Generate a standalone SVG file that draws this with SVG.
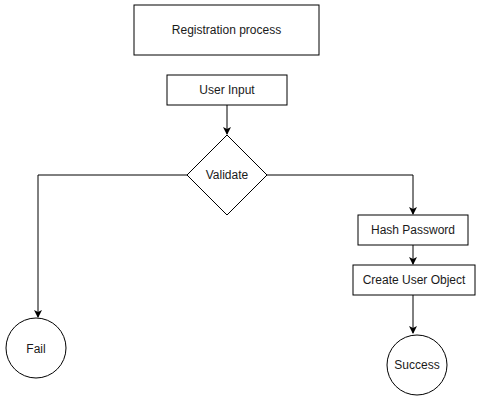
<svg xmlns="http://www.w3.org/2000/svg" width="480" height="401" viewBox="0 0 480 401">
<style>
.box{fill:#fff;stroke:#000;stroke-width:1}
.t{font-family:"Liberation Sans",Arial,sans-serif;font-size:12px;fill:#1a1a1a;text-anchor:middle;dominant-baseline:central}
.c{fill:none;stroke:#000;stroke-width:1}
</style>
<defs>
<marker id="ah" markerWidth="8" markerHeight="10" refX="7" refY="4" orient="auto" markerUnits="userSpaceOnUse" viewBox="0 0 8 8">
<path d="M0,0 L8,4 L0,8 L2,4 Z" fill="#000"/>
</marker>
</defs>
<rect width="480" height="401" fill="#fff"/>
<g id="connectors">
<path class="c" d="M227,105 V134" marker-end="url(#ah)"/>
<path class="c" d="M187,175 H38 V317" marker-end="url(#ah)"/>
<path class="c" d="M267,175 H413 V214" marker-end="url(#ah)"/>
<path class="c" d="M413,245 V264" marker-end="url(#ah)"/>
<path class="c" d="M413,295 V333" marker-end="url(#ah)"/>
</g>
<g id="registration"><rect class="box" x="134" y="5" width="185" height="50"/><text class="t" x="226.5" y="30">Registration process</text></g>
<g id="userinput"><rect class="box" x="167" y="75" width="120" height="30"/><text class="t" x="227" y="90">User Input</text></g>
<g id="validate"><path class="box" d="M227,135 L267,175 L227,215 L187,175 Z"/><text class="t" x="227" y="175">Validate</text></g>
<g id="fail"><circle class="box" cx="36" cy="348" r="30"/><text class="t" x="36" y="349">Fail</text></g>
<g id="hash"><rect class="box" x="358" y="215" width="110" height="30"/><text class="t" x="413" y="230">Hash Password</text></g>
<g id="create"><rect class="box" x="353" y="265" width="122" height="30"/><text class="t" x="414" y="280">Create User Object</text></g>
<g id="success"><circle class="box" cx="417" cy="365" r="30"/><text class="t" x="417" y="365">Success</text></g>
</svg>
